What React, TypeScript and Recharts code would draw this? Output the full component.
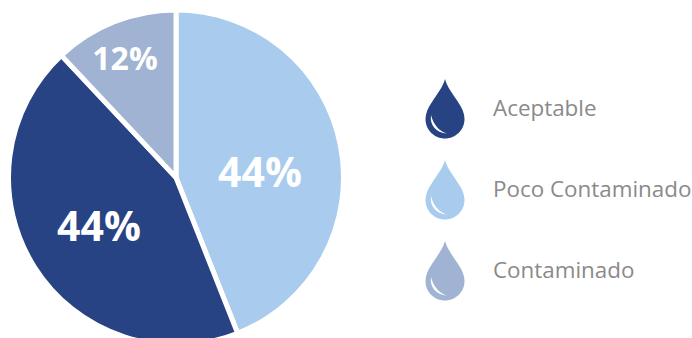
import React from "react";
import { PieChart, Pie, Cell, Legend } from "recharts";

const categories = ["Poco Contaminado", "Aceptable", "Contaminado"];
const values = [44, 44, 12];
const colors = ["#a8cbee", "#284384", "#a0b3d2"];
const labelOffsetX = [84, -77, -51];
const labelOffsetY = [-7, 47, -120];
const labelSizes = [41, 41, 32];
const legendOrder = [1, 0, 2];
const data = categories.map((name, i) => ({ name, value: values[i] }));

function renderLabel(props: any) {
  const { cx, cy, index, value } = props;
  return (
    <text
      x={cx + labelOffsetX[index]}
      y={cy + labelOffsetY[index]}
      fill="#ffffff"
      textAnchor="middle"
      dominantBaseline="central"
      fontFamily="'Open Sans', sans-serif"
      fontWeight={700}
      fontSize={labelSizes[index]}
    >
      {value}%
    </text>
  );
}

function Drop({ color }: { color: string }) {
  return (
    <svg width={40} height={60} viewBox="0 0 40 60" style={{ display: "block" }}>
      <path
        d="M20 0 C22 8 28 15 33 23 C37 29 39.5 34 39.5 40 C39.5 51 30.5 59.5 20 59.5 C9.5 59.5 0.5 51 0.5 40 C0.5 34 3 29 7 23 C12 15 18 8 20 0 Z"
        fill={color}
      />
      <path d="M6 36 C4.5 46 11 54 22 54.5 C14 52 8.5 46 6 36 Z" fill="#ffffff" />
    </svg>
  );
}

function LegendContent() {
  return (
    <div style={{ position: "relative", width: 272, height: 240 }}>
      {legendOrder.map((idx, i) => (
        <div key={categories[idx]} style={{ position: "absolute", left: 5, top: i * 81 }}>
          <Drop color={colors[idx]} />
          <span
            style={{
              position: "absolute",
              left: 68,
              top: 14,
              whiteSpace: "nowrap",
              color: "#8a8a8a",
              fontFamily: "'Open Sans', sans-serif",
              fontSize: 22.4,
              lineHeight: "30px",
            }}
          >
            {categories[idx]}
          </span>
        </div>
      ))}
    </div>
  );
}

export default function App() {
  return (
    <div style={{ position: "absolute", left: 0, top: 0, width: 692, height: 338, background: "#fff", overflow: "hidden" }}>
      <PieChart width={692} height={338} margin={{ top: 0, right: 0, bottom: 0, left: 0 }}>
        <Pie
          data={data}
          dataKey="value"
          nameKey="name"
          cx={176}
          cy={177.5}
          outerRadius={167.5}
          innerRadius={0}
          startAngle={90}
          endAngle={-270}
          stroke="#ffffff"
          strokeWidth={5}
          label={renderLabel}
          labelLine={false}
          isAnimationActive={false}
        >
          {data.map((d, i) => (
            <Cell key={d.name} fill={colors[i]} stroke="#ffffff" strokeWidth={5} />
          ))}
        </Pie>
        <Legend
          content={<LegendContent />}
          wrapperStyle={{ position: "absolute", left: 420, top: 79, width: 272, height: 240 }}
        />
      </PieChart>
    </div>
  );
}
